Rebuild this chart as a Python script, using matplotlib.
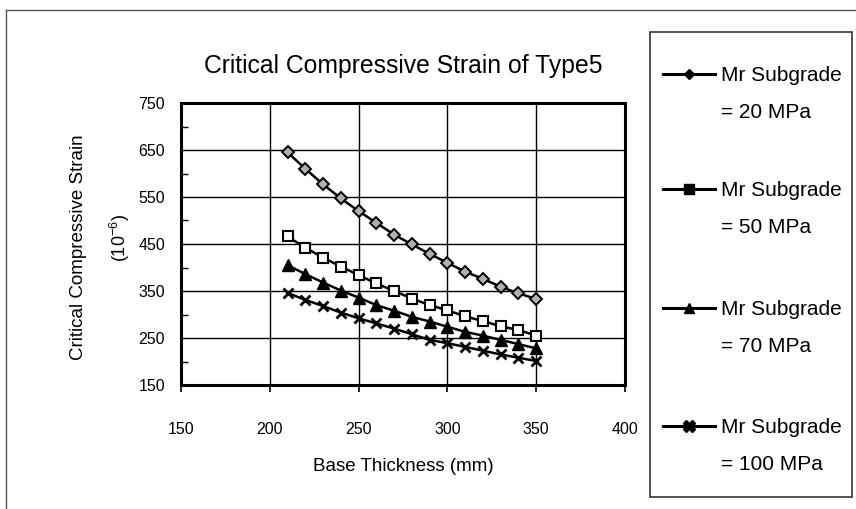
import matplotlib
matplotlib.use("Agg")
import matplotlib.pyplot as plt
from matplotlib.lines import Line2D
from matplotlib.patches import Rectangle
import numpy as np

plt.rcParams['font.family'] = ['Liberation Sans', 'DejaVu Sans']
plt.rcParams['mathtext.fontset'] = 'custom'
plt.rcParams['mathtext.rm'] = 'Liberation Sans'
plt.rcParams['mathtext.it'] = 'Liberation Sans'
plt.rcParams['mathtext.bf'] = 'Liberation Sans'

# ---------------- data ----------------
thickness = [210, 220, 230, 240, 250, 260, 270, 280, 290, 300, 310, 320, 330, 340, 350]
strain_20 = [645, 610, 577, 547, 520, 495, 470, 449, 429, 410, 391, 376, 359, 345, 333]
strain_50 = [466, 442, 421, 402, 384, 366, 350, 334, 320, 309, 296, 286, 275, 267, 255]
strain_70 = [405, 386, 368, 351, 336, 320, 308, 295, 285, 274, 263, 255, 246, 237, 228]
strain_100 = [346, 331, 318, 304, 292, 281, 270, 258, 246, 239, 231, 223, 215, 208, 201]

series_label_top = ["Mr Subgrade", "Mr Subgrade", "Mr Subgrade", "Mr Subgrade"]
series_label_bottom = ["= 20 MPa", "= 50 MPa", "= 70 MPa", "= 100 MPa"]
x_ticks = [150, 200, 250, 300, 350, 400]
y_ticks = [150, 250, 350, 450, 550, 650, 750]

title = "Critical Compressive Strain of Type5"
xlabel = "Base Thickness (mm)"
ylabel = "Critical Compressive Strain"
yunit = r"(10$^{-6}$)"

W, H = 856, 509
fig = plt.figure(figsize=(W / 100, H / 100), dpi=100)
fig.patch.set_facecolor('white')

L, R, T, B = 181, 625, 103, 385
ax = fig.add_axes([L / W, 1 - B / H, (R - L) / W, (B - T) / H])

styles = [
    dict(marker='D', ms=6.5, mfc='#b0b0b0', mec='black', mew=1.4),
    dict(marker='s', ms=6.5, mfc='white', mec='black', mew=1.5),
    dict(marker='^', ms=8, mfc='black', mec='black', mew=1),
    dict(marker='x', ms=7.5, mfc='black', mec='black', mew=2.0),
]
legend_styles = [
    dict(marker='D', ms=5.5),
    dict(marker='s', ms=7),
    dict(marker='^', ms=7.5),
    dict(marker='X', ms=8),
]
all_series = [strain_20, strain_50, strain_70, strain_100]

lines = []
for ys, st in zip(all_series, styles):
    ln, = ax.plot(thickness, ys, color='black', lw=1.8, zorder=3, **st)
    lines.append(ln)

ax.set_xlim(150, 400)
ax.set_ylim(150, 750)
ax.set_xticks(x_ticks)
ax.set_yticks(y_ticks)
ax.set_yticks([200, 300, 400, 500, 600, 700], minor=True)
ax.grid(True, which='major', color='black', lw=1.0)
for s in ax.spines.values():
    s.set_linewidth(2.2)
ax.tick_params(axis='x', which='major', direction='out', length=5, width=1.2,
               pad=22, labelsize=11.5)
ax.tick_params(axis='y', which='major', length=0, pad=11.5, labelsize=11.5)
ax.tick_params(axis='y', which='minor', direction='in', length=5, width=1.0)

ax.set_title(title, fontsize=17.8, pad=21.5)
ax.set_xlabel(xlabel, fontsize=13.5, labelpad=15)
ax.set_ylabel(ylabel, fontsize=13.5)
ax.yaxis.set_label_coords((87 - L) / (R - L), 0.49)
fig.text(120 / W, 1 - 238 / H, yunit, rotation=90, ha='center', va='center',
         fontsize=13)

# legend frame
fig.add_artist(Rectangle((650 / W, 1 - 497 / H), 202 / W, 465 / H,
                         transform=fig.transFigure, fill=False,
                         edgecolor='#333333', lw=1.2))
# outer frame
fig.add_artist(Line2D([6 / W, 1.0], [1 - 10 / H, 1 - 10 / H],
                      transform=fig.transFigure, color='#555555', lw=1.0))
fig.add_artist(Line2D([6 / W, 6 / W], [0, 1 - 10 / H],
                      transform=fig.transFigure, color='#555555', lw=1.0))

pair_mid = [94, 209, 328, 446]
for i in range(4):
    h1 = Line2D([], [], color='black', lw=2.2, mfc='black', mec='black',
                **legend_styles[i])
    h2 = Line2D([], [], color='none')
    leg = fig.legend([h1, h2], [series_label_top[i], series_label_bottom[i]],
                     loc='center left',
                     bbox_to_anchor=(663 / W, 1 - pair_mid[i] / H),
                     frameon=False, fontsize=15, borderpad=0, borderaxespad=0,
                     handlelength=2.5, handletextpad=0.3, labelspacing=0.85)

fig.savefig('out.png', dpi=100)
